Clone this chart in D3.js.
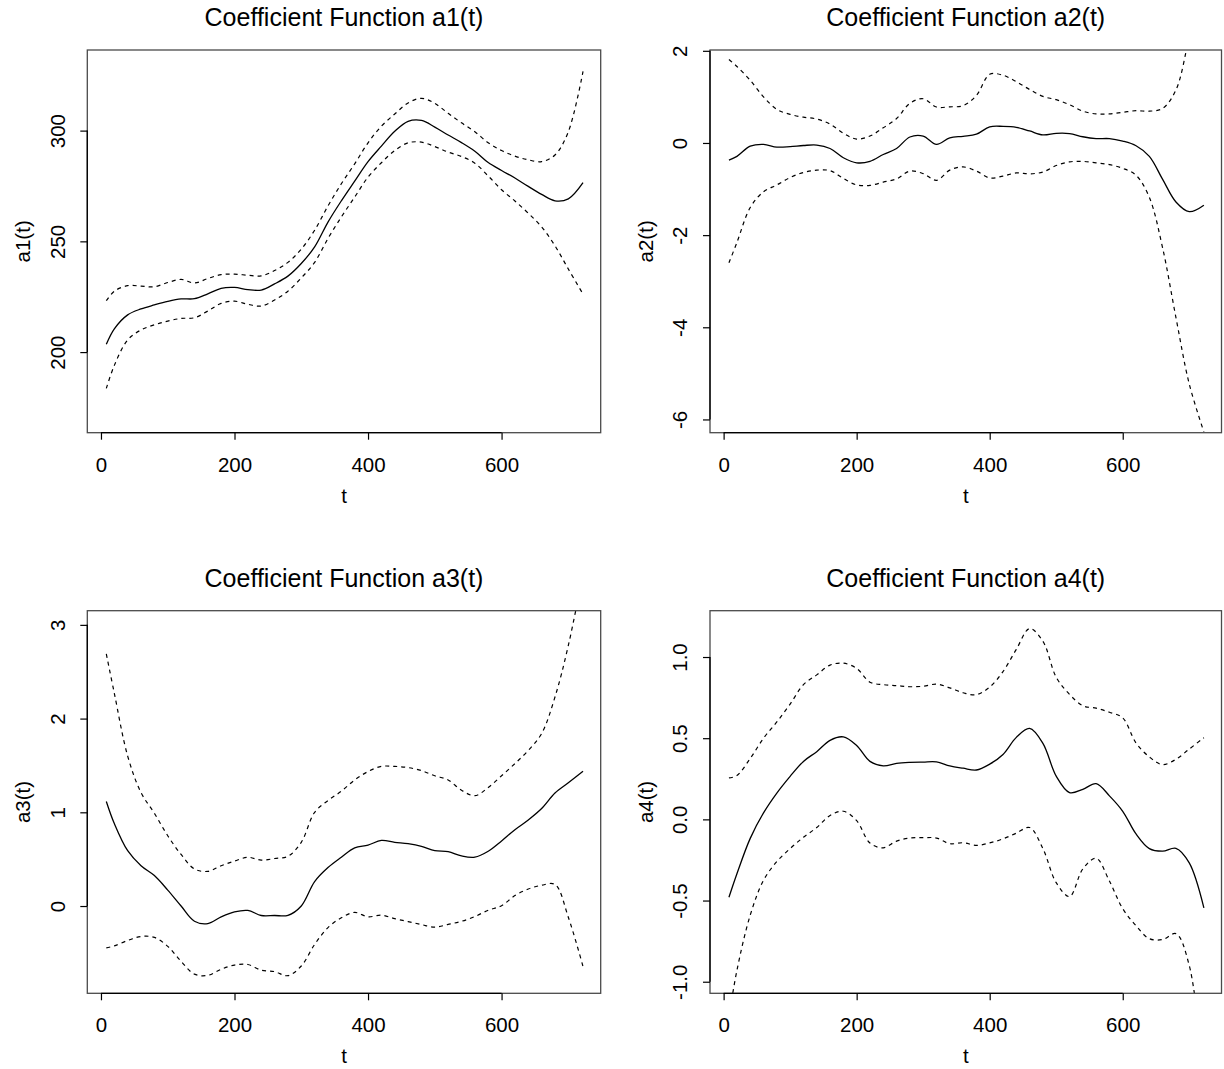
<!DOCTYPE html>
<html>
<head>
<meta charset="utf-8">
<script src="https://cdn.jsdelivr.net/npm/d3@7"></script>
<style>
  body { margin: 0; background: #fff; }
  svg { display: block; }
  text { font-family: "Liberation Sans", Arial, Helvetica, sans-serif; fill: #000; }
</style>
</head>
<body>
<svg id="chart" width="1224" height="1069"></svg>
<script>
// Time points at which the coefficient functions and their bands are evaluated
const tGrid = [8, 20, 40, 60, 80, 100, 120, 140, 160, 180, 200, 220, 240, 260, 280, 300, 320, 340, 360,
  380, 400, 420, 440, 460, 480, 500, 520, 540, 560, 580, 600, 620, 640, 660, 680, 700, 722];

// a1(t): estimate with pointwise upper / lower band
const a1Fit = [203.5, 210.5, 216.8, 219.5, 221.3, 222.9, 224, 224.1, 226.3, 228.8, 229.2, 228.2, 228, 230.8,
  234.3, 240, 247.5, 258.7, 268.3, 277.2, 286, 293, 299.7, 304.2, 304.6, 301.6, 298, 294.6, 290.7, 285.6,
  282, 278.6, 274.8, 271.2, 268.3, 269.2, 276.5];
const a1Upper = [223.2, 227.5, 230, 229.8, 229.5, 231.4, 232.8, 231.2, 233.2, 235, 235.2, 234.7, 234.4, 236.8,
  240.5, 246.5, 255, 266, 276, 285, 294.5, 302, 307.5, 312.5, 314.6, 312.3, 307.8, 303.5, 299.5, 294.5,
  291, 288.5, 286.8, 286, 289, 299.5, 326.7];
const a1Lower = [183.6, 194, 205.5, 210, 212.3, 214, 215.2, 215.5, 218.5, 222, 223, 221.6, 220.8, 223.5,
  227.5, 233.5, 240.5, 251.3, 261, 270, 279, 285.5, 291, 294.5, 294.8, 292.8, 290.3, 288.3, 285.3, 279.5,
  273.3, 268.2, 262.7, 256.5, 248, 237.5, 226.2];

// a2(t)
const a2Fit = [-0.37, -0.29, -0.07, -0.03, -0.09, -0.08, -0.055, -0.045, -0.12, -0.32, -0.43, -0.40, -0.25,
  -0.12, 0.13, 0.15, -0.03, 0.11, 0.145, 0.19, 0.35, 0.36, 0.34, 0.26, 0.175, 0.21, 0.205, 0.135, 0.095,
  0.095, 0.04, -0.06, -0.29, -0.79, -1.28, -1.49, -1.35];
const a2Upper = [1.81, 1.66, 1.36, 1.0, 0.73, 0.62, 0.56, 0.52, 0.41, 0.21, 0.085, 0.15, 0.33, 0.53, 0.86,
  0.96, 0.78, 0.785, 0.81, 1.03, 1.49, 1.47, 1.33, 1.16, 1.01, 0.94, 0.83, 0.69, 0.63, 0.63, 0.665, 0.70,
  0.69, 0.75, 1.15, 2.3, 3.6];
const a2Lower = [-2.6, -2.16, -1.4, -1.06, -0.91, -0.75, -0.64, -0.59, -0.6, -0.77, -0.91, -0.92, -0.85,
  -0.78, -0.61, -0.665, -0.81, -0.59, -0.52, -0.61, -0.76, -0.72, -0.65, -0.67, -0.63, -0.49, -0.41, -0.40,
  -0.43, -0.47, -0.55, -0.70, -1.18, -2.28, -3.79, -5.23, -6.27];

// a3(t)
const a3Fit = [1.116, 0.88, 0.59, 0.43, 0.325, 0.17, 0.0, -0.162, -0.187, -0.115, -0.062, -0.047, -0.101,
  -0.101, -0.10, 0.0, 0.26, 0.41, 0.52, 0.62, 0.65, 0.70, 0.68, 0.665, 0.637, 0.59, 0.58, 0.535, 0.522,
  0.585, 0.695, 0.815, 0.918, 1.04, 1.205, 1.315, 1.438];
const a3Upper = [2.69, 2.27, 1.6, 1.21, 0.99, 0.75, 0.55, 0.395, 0.37, 0.43, 0.48, 0.52, 0.49, 0.507, 0.53,
  0.68, 1.0, 1.125, 1.225, 1.345, 1.435, 1.49, 1.49, 1.477, 1.445, 1.39, 1.345, 1.235, 1.177, 1.265, 1.39,
  1.52, 1.66, 1.84, 2.23, 2.78, 3.55];
const a3Lower = [-0.446, -0.425, -0.368, -0.325, -0.335, -0.43, -0.59, -0.727, -0.74, -0.675, -0.63, -0.624,
  -0.684, -0.70, -0.743, -0.64, -0.41, -0.23, -0.125, -0.068, -0.115, -0.098, -0.135, -0.166, -0.198,
  -0.225, -0.196, -0.163, -0.112, -0.045, 0.003, 0.112, 0.181, 0.222, 0.23, -0.12, -0.645];

// a4(t)
const a4Fit = [-0.48, -0.335, -0.117, 0.04, 0.162, 0.265, 0.357, 0.417, 0.487, 0.508, 0.455, 0.357, 0.33,
  0.345, 0.351, 0.353, 0.354, 0.329, 0.315, 0.304, 0.34, 0.40, 0.505, 0.56, 0.468, 0.266, 0.165, 0.185,
  0.22, 0.145, 0.05, -0.09, -0.18, -0.196, -0.178, -0.268, -0.545];
const a4Upper = [0.255, 0.27, 0.375, 0.5, 0.6, 0.71, 0.83, 0.89, 0.95, 0.962, 0.93, 0.845, 0.83, 0.824,
  0.817, 0.82, 0.833, 0.81, 0.78, 0.768, 0.815, 0.91, 1.047, 1.175, 1.097, 0.875, 0.77, 0.70, 0.685, 0.66,
  0.625, 0.47, 0.385, 0.337, 0.37, 0.433, 0.503];
const a4Lower = [-1.215, -0.93, -0.59, -0.375, -0.26, -0.18, -0.11, -0.05, 0.024, 0.05, -0.008, -0.146,
  -0.175, -0.134, -0.115, -0.113, -0.115, -0.15, -0.144, -0.16, -0.145, -0.12, -0.085, -0.05, -0.18, -0.39,
  -0.475, -0.305, -0.24, -0.38, -0.55, -0.655, -0.735, -0.74, -0.704, -0.9, -1.59];

// Axis limits (before the usual 4% padding) and tick values
const xLim = [8, 720];
const xTicks = [0, 200, 400, 600];
const yLims = [[170, 330], [-5.98, 1.71], [-0.78, 3.0], [-0.984, 1.198]];
const a1Ticks = [200, 250, 300];
const a2Ticks = [-6, -4, -2, 0, 2];
const a3Ticks = [0, 1, 2, 3];
const a4Ticks = [-1.0, -0.5, 0.0, 0.5, 1.0];

const titles = ["Coefficient Function a1(t)", "Coefficient Function a2(t)",
  "Coefficient Function a3(t)", "Coefficient Function a4(t)"];
const yLabels = ["a1(t)", "a2(t)", "a3(t)", "a4(t)"];

const plain = d => String(d);
const oneDecimal = d => d.toFixed(1);

const panels = [
  { fit: a1Fit, upper: a1Upper, lower: a1Lower, ticks: a1Ticks, fmt: plain },
  { fit: a2Fit, upper: a2Upper, lower: a2Lower, ticks: a2Ticks, fmt: plain },
  { fit: a3Fit, upper: a3Upper, lower: a3Lower, ticks: a3Ticks, fmt: plain },
  { fit: a4Fit, upper: a4Upper, lower: a4Lower, ticks: a4Ticks, fmt: oneDecimal }
];

// Plot-region geometry of the 2 x 2 grid
const colLeft = [87.3, 710], colRight = [600.7, 1221.5];
const rowTop = [50, 610.7], rowBottom = [432.7, 993.3];

const pad = lim => { const r = lim[1] - lim[0]; return [lim[0] - 0.04 * r, lim[1] + 0.04 * r]; };

const svg = d3.select('#chart');
const defs = svg.append('defs');

panels.forEach((p, i) => {
  const col = i % 2, row = Math.floor(i / 2);
  const L = colLeft[col], R = colRight[col], T = rowTop[row], B = rowBottom[row];

  const x = d3.scaleLinear().domain(pad(xLim)).range([L, R]);
  const y = d3.scaleLinear().domain(pad(yLims[i])).range([B, T]);

  defs.append('clipPath').attr('id', 'plot-clip-' + i)
    .append('rect').attr('x', L).attr('y', T).attr('width', R - L).attr('height', B - T);

  const g = svg.append('g');
  const line = d3.line()
    .x((d, j) => x(tGrid[j]))
    .y(d => y(d))
    .curve(d3.curveCatmullRom.alpha(0.5));

  const plot = g.append('g').attr('clip-path', `url(#plot-clip-${i})`);
  [p.upper, p.lower].forEach(s => {
    plot.append('path').attr('d', line(s))
      .attr('fill', 'none').attr('stroke', '#000')
      .attr('stroke-width', 1.2).attr('stroke-dasharray', '4,4');
  });
  plot.append('path').attr('d', line(p.fit))
    .attr('fill', 'none').attr('stroke', '#000').attr('stroke-width', 1.3);

  // Frame around the plot region
  g.append('rect').attr('x', L).attr('y', T).attr('width', R - L).attr('height', B - T)
    .attr('fill', 'none').attr('stroke', '#4a4a4a').attr('stroke-width', 1.3);

  // Bottom axis
  const xAxis = d3.axisBottom(x).tickValues(xTicks).tickSize(7).tickSizeOuter(0)
    .tickPadding(17.5).tickFormat(plain);
  const gx = g.append('g').attr('transform', `translate(0,${B})`).call(xAxis);
  gx.select('.domain').remove();
  gx.append('path').attr('d', `M${x(xTicks[0])},0H${x(xTicks[xTicks.length - 1])}`)
    .attr('stroke', '#000').attr('stroke-width', 1.3);
  gx.selectAll('.tick line').attr('stroke', '#000').attr('stroke-width', 1.2);
  gx.selectAll('.tick text').attr('font-size', 20.5).attr('font-family', null);
  gx.attr('font-size', null).attr('font-family', null);

  // Left axis with labels running parallel to the axis
  const yAxis = d3.axisLeft(y).tickValues(p.ticks).tickSize(7).tickSizeOuter(0).tickFormat(p.fmt);
  const gy = g.append('g').attr('transform', `translate(${L},0)`).call(yAxis);
  gy.select('.domain').remove();
  gy.append('path').attr('d', `M0,${y(p.ticks[0])}V${y(p.ticks[p.ticks.length - 1])}`)
    .attr('stroke', '#000').attr('stroke-width', 1.3);
  gy.selectAll('.tick line').attr('stroke', '#000').attr('stroke-width', 1.2);
  gy.selectAll('.tick text')
    .attr('x', null).attr('dy', null)
    .attr('text-anchor', 'middle')
    .attr('transform', 'translate(-22.6,0) rotate(-90)')
    .attr('font-size', 20.5).attr('font-family', null);
  gy.attr('font-size', null).attr('font-family', null);

  // Titles and axis labels
  g.append('text').attr('x', (L + R) / 2).attr('y', T - 24)
    .attr('text-anchor', 'middle').attr('font-size', 25).text(titles[i]);
  g.append('text').attr('x', (L + R) / 2).attr('y', B + 70)
    .attr('text-anchor', 'middle').attr('font-size', 20.5).text('t');
  g.append('text')
    .attr('transform', `translate(${L - 57},${(T + B) / 2}) rotate(-90)`)
    .attr('text-anchor', 'middle').attr('font-size', 20.5).text(yLabels[i]);
});
</script>
</body>
</html>
